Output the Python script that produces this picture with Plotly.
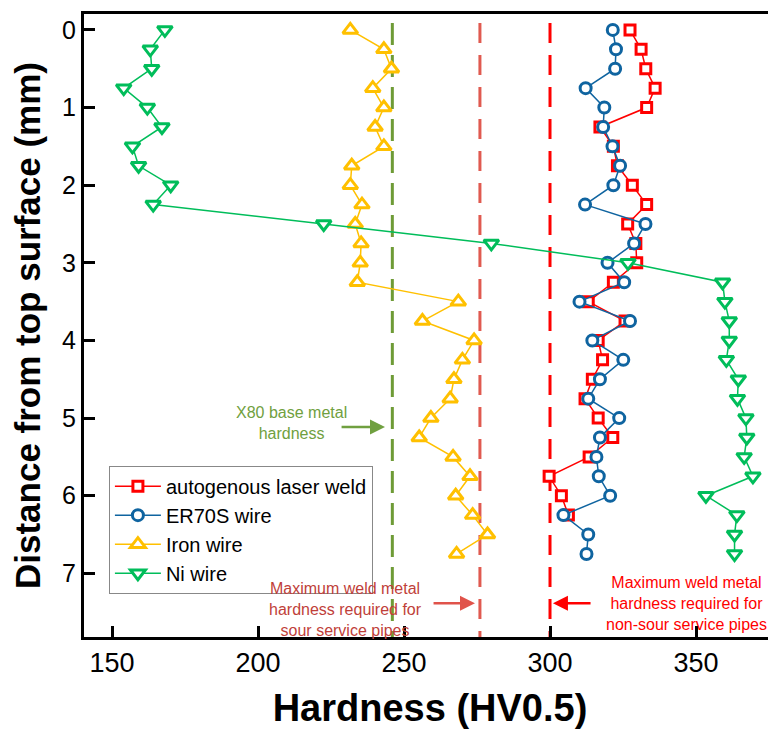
import plotly.graph_objects as go

depth_all = [0, 0.25, 0.5, 0.75, 1.0, 1.25, 1.5, 1.75, 2.0, 2.25, 2.5, 2.75, 3.0, 3.25,
             3.5, 3.75, 4.0, 4.25, 4.5, 4.75, 5.0, 5.25, 5.5, 5.75, 6.0, 6.25, 6.5, 6.75]
depth_laser = depth_all[:26]

laser_hv = [327.4, 331.2, 332.8, 336.0, 333.1, 317.1, 321.7, 323.1, 328.2, 333.1, 326.6, 329.4, 329.7,
            321.7, 313.1, 325.7, 316.5, 318.0, 314.5, 312.0, 316.5, 321.5, 313.4, 299.7, 303.9, 306.3]
er70s_hv = [321.5, 322.6, 322.3, 312.2, 318.6, 318.2, 321.4, 324.0, 321.7, 312.0, 332.7, 328.8, 319.7, 325.4,
            310.1, 327.4, 314.5, 325.1, 317.1, 313.1, 323.7, 317.1, 315.9, 316.7, 320.6, 304.6, 313.1, 312.5]
iron_hv = [231.6, 243.1, 245.7, 239.3, 243.1, 240.1, 243.1, 232.1, 231.6, 235.6, 233.3, 235.3, 235.0, 234.0,
           268.6, 256.3, 274.0, 270.0, 267.1, 265.8, 259.2, 255.2, 266.8, 272.6, 267.7, 273.5, 278.6, 268.0]
ni_hv = [168.1, 163.1, 163.6, 154.0, 162.1, 167.1, 157.0, 159.1, 170.1, 164.1, 222.5, 279.9, 326.7, 359.1,
         359.9, 361.4, 361.4, 360.4, 364.5, 364.2, 367.1, 367.4, 366.5, 369.5, 353.4, 364.0, 363.2, 363.2]

series_names = ["autogenous laser weld", "ER70S wire", "Iron wire", "Ni wire"]

base_metal_hv = 246
sour_limit_hv = 276
nonsour_limit_hv = 300

x_ticks = [150, 200, 250, 300, 350]
y_ticks = [0, 1, 2, 3, 4, 5, 6, 7]

FONT = "Arial, Liberation Sans, sans-serif"

fig = go.Figure()

specs = [
    (series_names[0], laser_hv, depth_laser, "#FF0000", "square", 10),
    (series_names[1], er70s_hv, depth_all, "#0F64A0", "circle", 11),
    (series_names[2], iron_hv, depth_all, "#FFC000", "triangle-up", 13),
    (series_names[3], ni_hv, depth_all, "#00BD5A", "triangle-down", 13),
]
for name, xs, ys, col, sym, sz in specs:
    fig.add_trace(go.Scatter(
        x=xs, y=ys, name=name, mode="lines+markers",
        line=dict(color=col, width=1.5),
        marker=dict(symbol=sym, size=sz, color="white", line=dict(color=col, width=3)),
    ))

# vertical reference lines
for xv, col, dash, w in [
    (base_metal_hv, "#6E9B36", "22px,10px", 3),
    (sour_limit_hv, "#E05A50", "20px,12px", 3),
    (nonsour_limit_hv, "#FF0000", "20px,12px", 3),
]:
    fig.add_shape(type="line", xref="x", yref="y", x0=xv, x1=xv, y0=-0.09, y1=7.82,
                  line=dict(color=col, width=w, dash=dash), layer="below")

# annotations
fig.add_annotation(x=211.3, y=5.06, xref="x", yref="y", text="X80 base metal<br>hardness",
                   showarrow=False, font=dict(family=FONT, size=16, color="#70A040"),
                   xanchor="center", yanchor="middle")
fig.add_annotation(x=243.5, y=5.115, ax=228.1, ay=5.115, axref="x", ayref="y", xref="x", yref="y",
                   text="", showarrow=True, arrowhead=2, arrowsize=1.2, arrowwidth=2.5, arrowcolor="#70A040")

fig.add_annotation(x=230.0, y=7.46, xref="x", yref="y",
                   text="Maximum weld metal<br>hardness required for<br>sour service pipes",
                   showarrow=False, font=dict(family=FONT, size=16, color="#BF3F3A"),
                   xanchor="center", yanchor="middle")
fig.add_annotation(x=274.3, y=7.385, ax=259.6, ay=7.385, axref="x", ayref="y", xref="x", yref="y",
                   text="", showarrow=True, arrowhead=2, arrowsize=1.2, arrowwidth=2.5, arrowcolor="#E0534A")

fig.add_annotation(x=346.6, y=7.385, xref="x", yref="y",
                   text="Maximum weld metal<br>hardness required for<br>non-sour service pipes",
                   showarrow=False, font=dict(family=FONT, size=16, color="#FF0000"),
                   xanchor="center", yanchor="middle")
fig.add_annotation(x=301.0, y=7.385, ax=314.4, ay=7.385, axref="x", ayref="y", xref="x", yref="y",
                   text="", showarrow=True, arrowhead=2, arrowsize=1.2, arrowwidth=2.5, arrowcolor="#FF0000")

fig.update_layout(
    width=776, height=733, autosize=False,
    margin=dict(l=76, r=8, t=3, b=104),
    paper_bgcolor="white", plot_bgcolor="white",
    font=dict(family=FONT, color="black"),
    showlegend=True,
    legend=dict(x=0.036, y=0.275, xanchor="left", yanchor="top",
                bgcolor="white", bordercolor="#888888", borderwidth=1,
                font=dict(family=FONT, size=20, color="black"),
                itemwidth=46, tracegroupgap=0),
    xaxis=dict(range=[140.4, 377.4], tickvals=x_ticks, ticktext=[str(v) for v in x_ticks],
               ticks="inside", ticklen=11, tickwidth=3, tickcolor="black",
               showline=True, linewidth=3, linecolor="black", mirror=True,
               showgrid=False, zeroline=False,
               tickfont=dict(family=FONT, size=27, color="black"),
               title=dict(text="<b>Hardness (HV0.5)</b>", font=dict(family=FONT, size=38, color="black"),
                          standoff=17)),
    yaxis=dict(range=[7.82, -0.205], tickvals=y_ticks, ticktext=[str(v) for v in y_ticks],
               ticks="inside", ticklen=11, tickwidth=3, tickcolor="black",
               showline=True, linewidth=3, linecolor="black", mirror=False,
               showgrid=False, zeroline=False,
               tickfont=dict(family=FONT, size=25, color="black"),
               title=dict(text="<b>Distance from top surface (mm)</b>",
                          font=dict(family=FONT, size=35, color="black"), standoff=22)),
)

fig.write_html("out.html")
